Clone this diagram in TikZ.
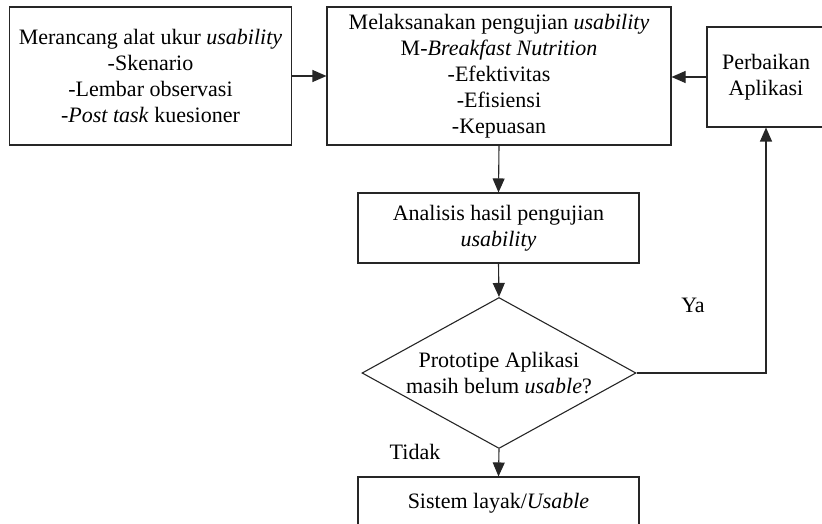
\documentclass[tikz,border=0pt]{standalone}
\usepackage{fontspec}
\setmainfont{Liberation Serif}
\usetikzlibrary{arrows.meta,shapes.geometric}
\begin{document}
\begin{tikzpicture}[x=1pt,y=-1pt,
  font=\fontsize{22}{26}\selectfont,
  box/.style={draw=black!85,line width=1.1pt,rectangle,align=center,inner sep=0pt},
  conn/.style={draw=black!85,line width=1.1pt,-{Triangle[width=12pt,length=14pt]}},
  lbl/.style={inner sep=0pt}]
\useasboundingbox (0,0) rectangle (822,524);
\clip (0,0) rectangle (822,524);
\node[box,minimum width=282pt,minimum height=138pt] (b1) at (150.5,76)
  {Merancang alat ukur \textit{usability}\\-Skenario\\-Lembar observasi\\-\textit{Post task} kuesioner};
\node[box,minimum width=344pt,minimum height=138pt] (b2) at (499,76)
  {Melaksanakan pengujian \textit{usability}\\M-\textit{Breakfast Nutrition}\\-Efektivitas\\-Efisiensi\\-Kepuasan};
\node[box,minimum width=118pt,minimum height=100pt] (p) at (766,77)
  {Perbaikan\\Aplikasi};
\node[box,minimum width=281pt,minimum height=70pt] (b3) at (498.5,228)
  {Analisis hasil pengujian\\\textit{usability}};
\node[draw=black!85,line width=1.1pt,diamond,inner sep=0pt,minimum width=274pt,minimum height=151pt,
  label={[align=center]center:Prototipe Aplikasi\\masih belum \textit{usable}?}] (d) at (499,373) {};
\node[box,minimum width=281pt,minimum height=52pt] (b4) at (498.5,503)
  {Sistem layak/\textit{Usable}};
\node[lbl] (ya) at (693,305) {Ya};
\node[lbl] (tidak) at (415,452) {Tidak};
\draw[conn] (b1.east) -- (b2.west);
\draw[conn] (p.west) -- (b2.east |- p.west);
\draw[conn] (b2.south) -- (b3.north);
\draw[conn] (b3.south) -- (d.north);
\draw[conn] (d.east) -| (p.south);
\draw[conn] (d.south) -- (b4.north);
\end{tikzpicture}
\end{document}
